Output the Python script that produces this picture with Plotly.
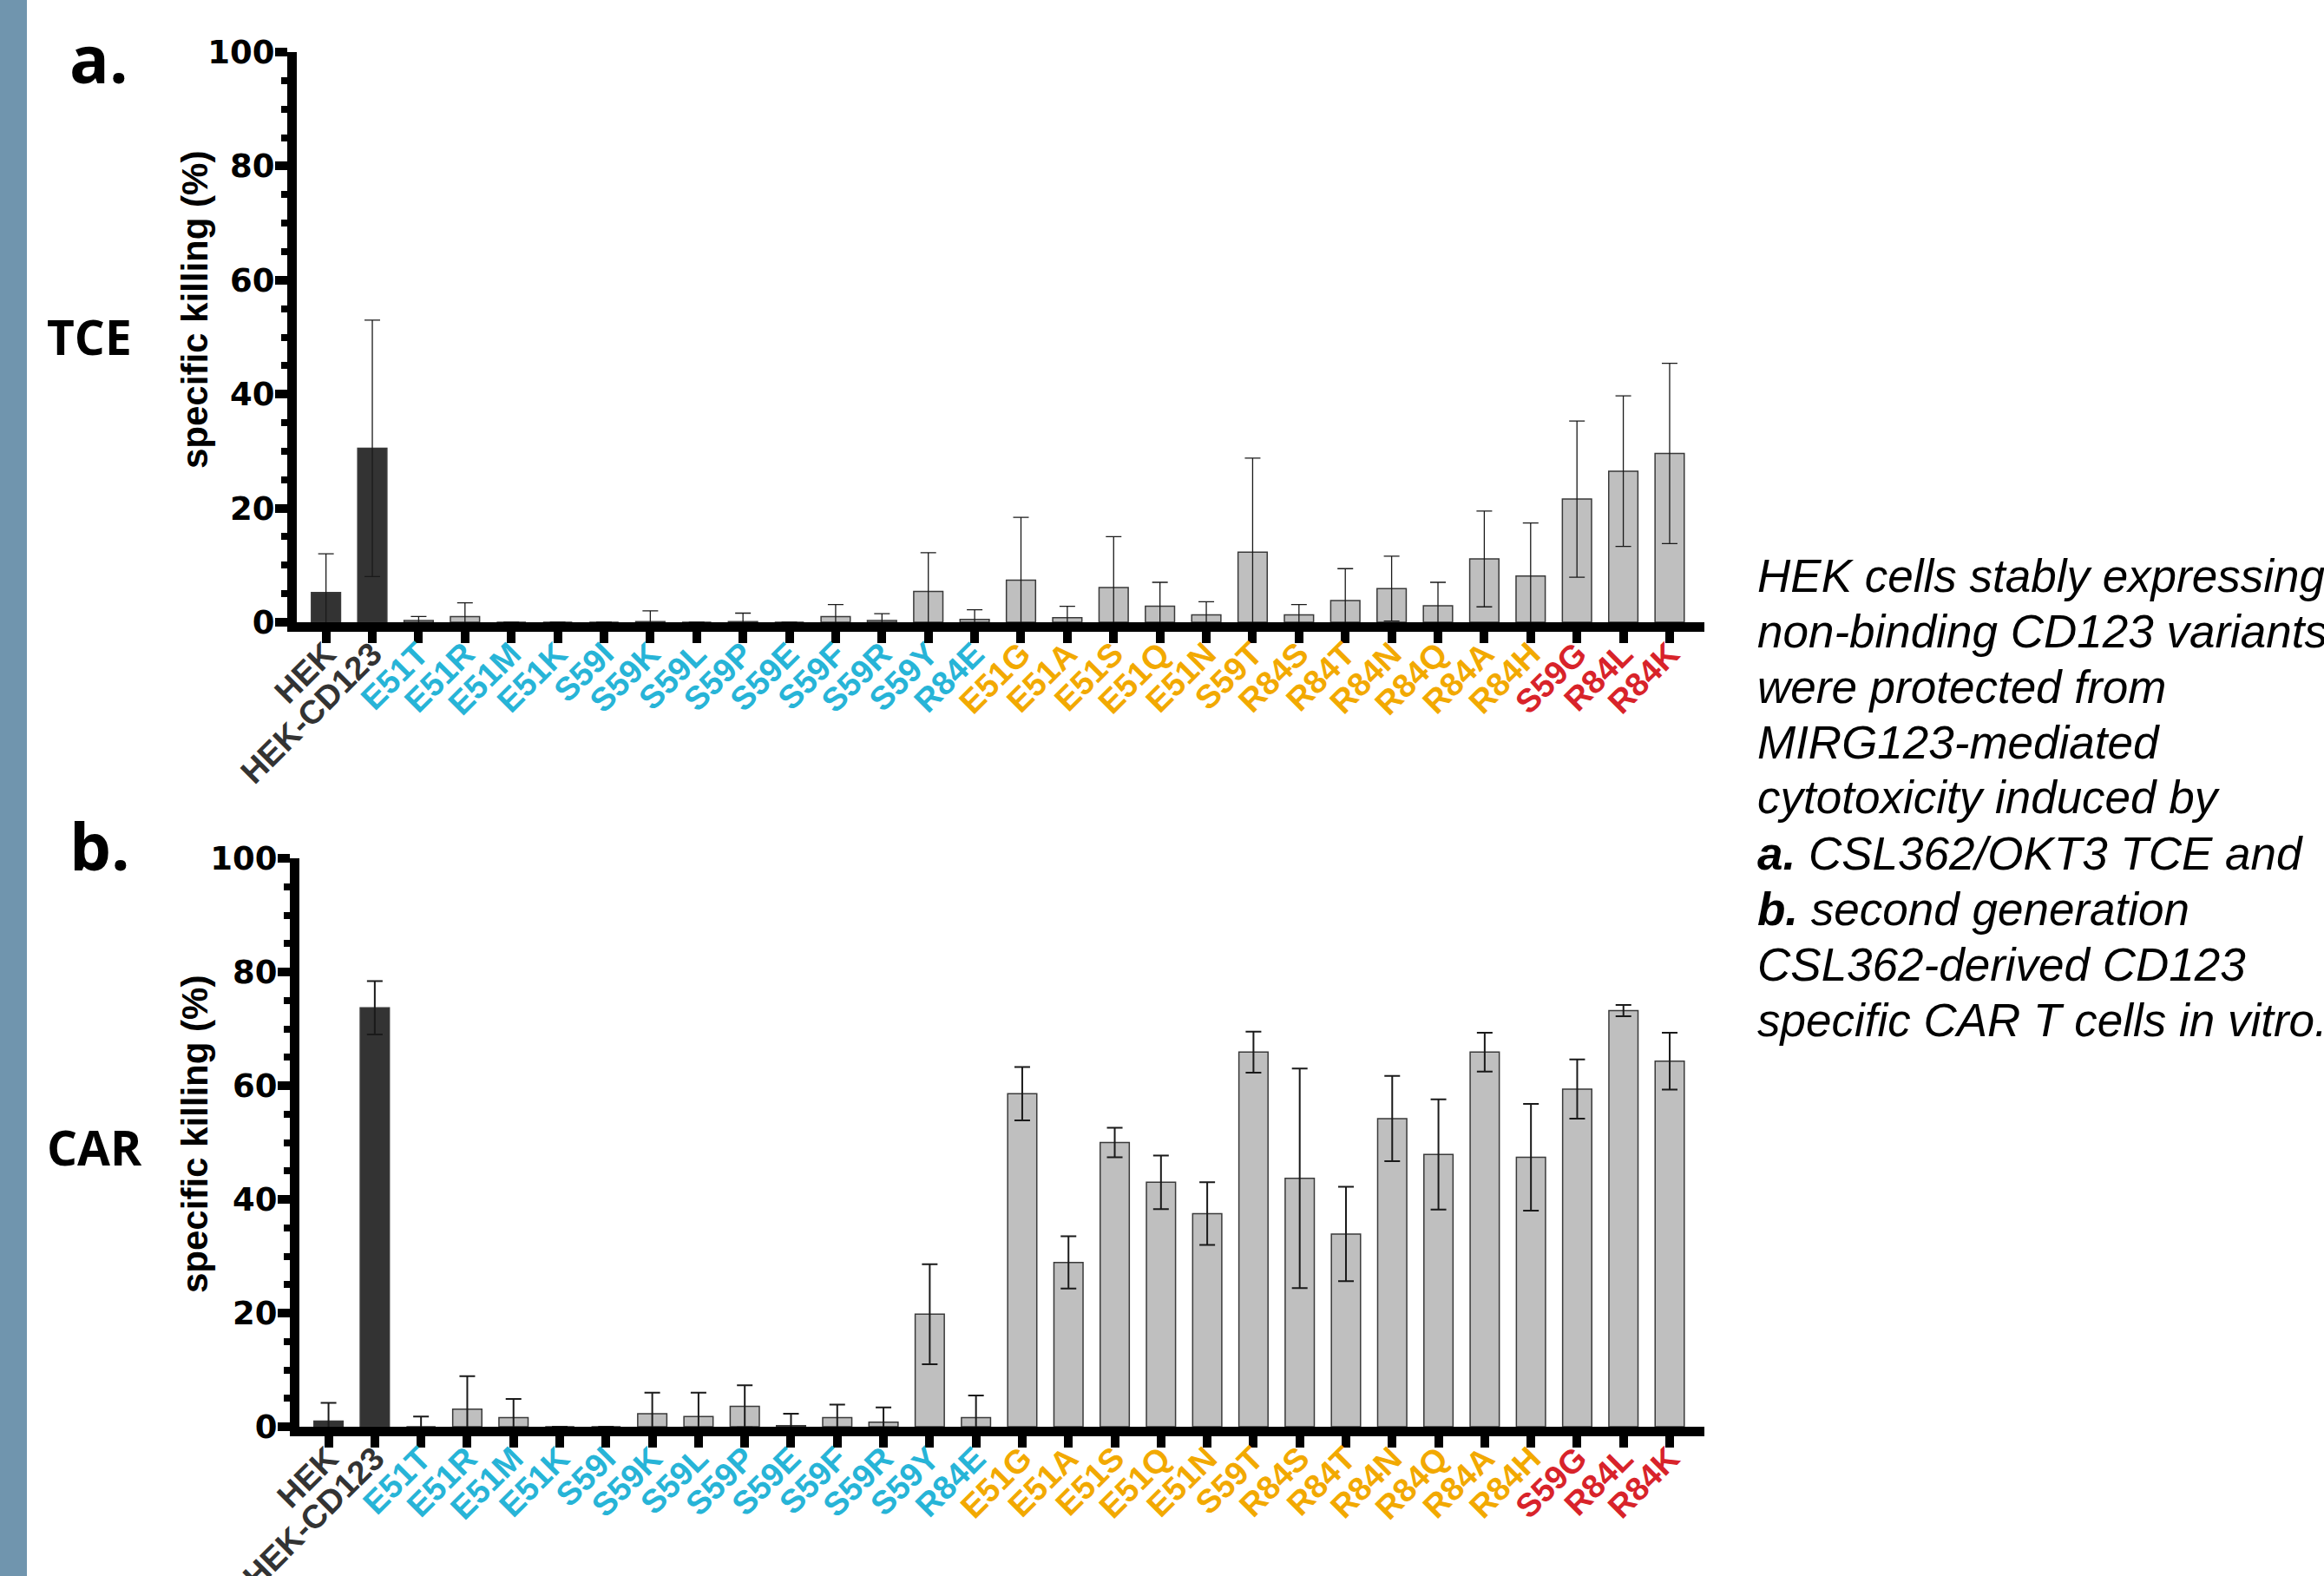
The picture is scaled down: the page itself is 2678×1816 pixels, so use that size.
import plotly.graph_objects as go

W, H = 2678, 1816

categories = ["HEK", "HEK-CD123", "E51T", "E51R", "E51M", "E51K", "S59I", "S59K",
              "S59L", "S59P", "S59E", "S59F", "S59R", "S59Y", "R84E", "E51G", "E51A",
              "E51S", "E51Q", "E51N", "S59T", "R84S", "R84T", "R84N", "R84Q", "R84A",
              "R84H", "S59G", "R84L", "R84K"]
label_groups = ["control"] * 2 + ["blue"] * 13 + ["orange"] * 12 + ["red"] * 3

tce_mean = [5.2, 30.5, 0.3, 1.0, 0, 0, 0, 0.1, 0, 0.1, 0, 1.0, 0.3, 5.4, 0.5, 7.4, 0.8,
            6.1, 2.8, 1.3, 12.3, 1.3, 3.8, 5.9, 2.9, 11.1, 8.1, 21.6, 26.5, 29.6]
tce_err = [6.8, 22.5, 0.7, 2.4, 0, 0, 0, 1.9, 0, 1.5, 0, 2.1, 1.2, 6.8, 1.7, 11.0, 2.0,
           8.9, 4.2, 2.3, 16.5, 1.8, 5.6, 5.7, 4.1, 8.4, 9.3, 13.7, 13.2, 15.8]

car_mean = [1.0, 73.7, 0, 3.1, 1.6, 0, 0, 2.3, 1.8, 3.6, 0.2, 1.6, 0.8, 19.8, 1.6, 58.6,
            28.9, 50.0, 43.0, 37.5, 65.9, 43.7, 33.9, 54.2, 47.9, 65.9, 47.4, 59.4, 73.2, 64.3]
car_err = [3.2, 4.7, 1.8, 5.8, 3.3, 0, 0, 3.7, 4.2, 3.7, 2.1, 2.3, 2.6, 8.8, 3.9, 4.7,
           4.6, 2.6, 4.7, 5.5, 3.6, 19.3, 8.3, 7.5, 9.7, 3.4, 9.4, 5.2, 1.0, 5.0]

y_ticks = [0, 20, 40, 60, 80, 100]

caption_lines = [
    "<i>HEK cells stably expressing</i>",
    "<i>non-binding CD123 variants</i>",
    "<i>were protected from</i>",
    "<i>MIRG123-mediated</i>",
    "<i>cytotoxicity induced by</i>",
    "<b><i>a.</i></b><i> CSL362/OKT3 TCE and</i>",
    "<b><i>b.</i></b><i> second generation</i>",
    "<i>CSL362-derived CD123</i>",
    "<i>specific CAR T cells in vitro.</i>",
]

label_colors = {"control": "#333333", "blue": "#27B4D7", "orange": "#F2A900", "red": "#D8232A"}
bar_colors = {"control": "#333333", "blue": "#BFBFBF", "orange": "#BFBFBF", "red": "#BFBFBF"}

FONT = "Liberation Sans, Arial, sans-serif"
ticktext = [f"<span style='color:{label_colors[g]}'>{c}</span>" for c, g in zip(categories, label_groups)]


def px_x(p):
    return p / W


def px_y(p):
    return 1 - p / H


fig = go.Figure()


def add_panel(mean, err, xa, ya, thick):
    fig.add_trace(go.Bar(
        x=categories, y=mean, xaxis=xa, yaxis=ya, width=0.63,
        marker=dict(color=[bar_colors[g] for g in label_groups],
                    line=dict(color="#3a3a3a", width=1.5)),
        error_y=dict(type="data", array=[e if e > 0 else None for e in err],
                     symmetric=True, color="#1a1a1a", thickness=thick, width=9),
        showlegend=False,
    ))


add_panel(tce_mean, tce_err, "x", "y", 1.3)
add_panel(car_mean, car_err, "x2", "y2", 2.0)

xcommon = dict(
    type="category", range=[-0.63, 29.75], showline=True, linewidth=11, linecolor="black",
    ticks="outside", ticklen=13, tickwidth=10, tickcolor="black", tickangle=-45,
    tickvals=categories, ticktext=ticktext, showgrid=False, zeroline=False, automargin=False,
    ticklabelstandoff=-25,
    tickfont=dict(family=FONT, size=38, weight="bold"), fixedrange=True,
)
ycommon = dict(
    range=[0, 100], showline=True, linewidth=11, linecolor="black",
    ticks="outside", ticklen=14, tickwidth=10, tickcolor="black",
    tickvals=y_ticks, showgrid=False, zeroline=False, automargin=False,
    ticklabelstandoff=-7,
    minor=dict(dtick=5, ticks="outside", ticklen=7, tickwidth=8, tickcolor="black", showgrid=False),
    tickfont=dict(family="DejaVu Sans, sans-serif", size=37, weight="bold", color="black"),
)

fig.update_layout(
    width=W, height=H, margin=dict(l=0, r=0, t=0, b=0, autoexpand=False),
    paper_bgcolor="white", plot_bgcolor="white", bargap=0.37,
    xaxis=dict(domain=[px_x(342), px_x(1964)], anchor="y", **xcommon),
    yaxis=dict(domain=[px_y(717), px_y(60)], anchor="x", **ycommon),
    xaxis2=dict(domain=[px_x(345), px_x(1964)], anchor="y2", **xcommon),
    yaxis2=dict(domain=[px_y(1644), px_y(989)], anchor="x2", **ycommon),
)

# left steel-blue strip
fig.add_shape(type="rect", xref="paper", yref="paper", x0=0, x1=px_x(31), y0=0, y1=1,
              fillcolor="#7095AE", line=dict(width=0), layer="below")

ann = []
# y-axis titles
for yc in (357, 1307):
    ann.append(dict(text="<b>specific killing (%)</b>", textangle=-90, x=px_x(224), y=px_y(yc),
                    xanchor="center", yanchor="middle",
                    xref="paper", yref="paper", showarrow=False,
                    font=dict(family=FONT, size=42, color="black")))
# panel letters and row names
PFONT = "Open Sans, Noto Sans, sans-serif"
ann.append(dict(text="<b>a.</b>", x=px_x(78), y=px_y(67), xanchor="left", yanchor="middle",
                xref="paper", yref="paper", showarrow=False, font=dict(family=PFONT, size=76, color="black")))
ann.append(dict(text="<b>b.</b>", x=px_x(78), y=px_y(973), xanchor="left", yanchor="middle",
                xref="paper", yref="paper", showarrow=False, font=dict(family=PFONT, size=76, color="black")))
ann.append(dict(text="<b>TCE</b>", x=px_x(52), y=px_y(387), xanchor="left", yanchor="middle",
                xref="paper", yref="paper", showarrow=False, font=dict(family=PFONT, size=55, color="black")))
ann.append(dict(text="<b>CAR</b>", x=px_x(52), y=px_y(1321), xanchor="left", yanchor="middle",
                xref="paper", yref="paper", showarrow=False, font=dict(family=PFONT, size=55, color="black")))
# caption
for i, line in enumerate(caption_lines):
    ann.append(dict(text=line, x=px_x(2023), y=px_y(663 + 64 * i), xanchor="left", yanchor="middle",
                    xref="paper", yref="paper", showarrow=False,
                    font=dict(family=FONT, size=53, color="black")))

fig.update_layout(annotations=ann)

fig.write_html(
    "out.html",
    config={"displayModeBar": False},
    post_script="document.body.style.margin='0';document.body.style.padding='0';"
                "document.body.style.overflow='hidden';",
)
